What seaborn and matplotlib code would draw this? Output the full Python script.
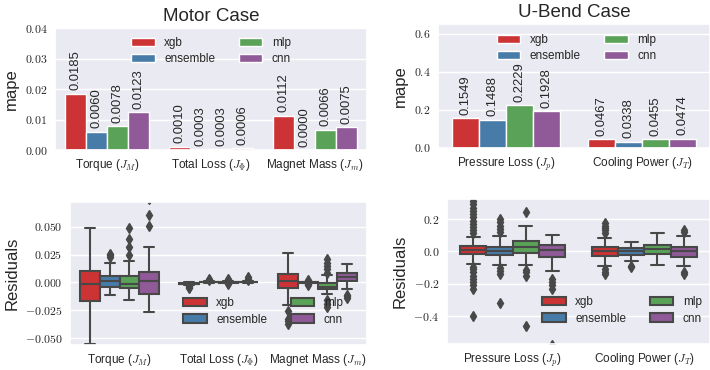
import matplotlib
matplotlib.use("Agg")
import matplotlib.pyplot as plt
import seaborn as sns
import pandas as pd
from matplotlib.ticker import FuncFormatter

# ---------------- data ----------------
models = ["xgb", "ensemble", "mlp", "cnn"]
motor_targets = ["Torque ($J_M$)", "Total Loss ($J_\\Phi$)", "Magnet Mass ($J_m$)"]
ubend_targets = ["Pressure Loss ($J_p$)", "Cooling Power ($J_T$)"]

motor_mape_xgb = [0.0185, 0.0010, 0.0112]
motor_mape_ensemble = [0.0060, 0.0003, 0.0000]
motor_mape_mlp = [0.0078, 0.0003, 0.0066]
motor_mape_cnn = [0.0123, 0.0006, 0.0075]

ubend_mape_xgb = [0.1549, 0.0467]
ubend_mape_ensemble = [0.1488, 0.0338]
ubend_mape_mlp = [0.2229, 0.0455]
ubend_mape_cnn = [0.1928, 0.0474]

# residual samples
res_torque = {
    "xgb": [-0.0553, -0.030, -0.0168, -0.010, -0.0018, 0.004, 0.0101, 0.030, 0.0493],
    "ensemble": [-0.0114, -0.009, -0.007, -0.005, -0.0039, -0.002, -0.001, 0.0, 0.001,
                 0.002, 0.003, 0.004, 0.0054, 0.0176, 0.023, 0.0245, 0.026],
    "mlp": [-0.0162, -0.013, -0.010, -0.008, -0.0065, -0.0054, -0.0045, -0.0035, -0.0025,
            -0.002, -0.0015, 0.0, 0.0015, 0.003, 0.0045, 0.0059, 0.0194, 0.0245, 0.032,
            0.039, 0.0495],
    "cnn": [-0.0269, -0.020, -0.015, -0.012, -0.0102, -0.007, -0.004, -0.001, 0.0012,
            0.003, 0.005, 0.007, 0.0095, 0.0317, 0.051, 0.061, 0.075],
}
res_loss = {
    "xgb": [-0.005, -0.0045, -0.0035, -0.0025, -0.0015, -0.0013, -0.0012, -0.0011, -0.001,
            -0.0009, -0.0008, -0.0006, -0.0005, -0.0002, 0.0, 0.0003, 0.0005],
    "ensemble": [-0.0004, -0.0002, -0.0001, 0.0, 0.0001, 0.0002, 0.0003, 0.0004, 0.0005,
                 0.0006, 0.001, 0.0018, 0.0027],
    "mlp": [-0.0018, -0.0008, -0.0005, -0.0003, -0.0002, -0.0001, 0.0, 0.0001, 0.0002,
            0.0003, 0.0009, 0.0018, 0.0028],
    "cnn": [-0.0006, -0.0004, -0.0002, -0.0001, 0.0, 0.0001, 0.0002, 0.0003, 0.0004,
            0.0005, 0.0006, 0.0007, 0.0008, 0.0015, 0.0025, 0.0035, 0.0045],
}
res_mass = {
    "xgb": [-0.037, -0.035, -0.033, -0.026, -0.020, -0.005, -0.003, -0.001, 0.0, 0.001,
            0.0015, 0.003, 0.005, 0.006, 0.007, 0.008, 0.012, 0.016, 0.020, 0.024, 0.0265],
    "ensemble": [-0.0022, -0.0015, -0.0008, -0.0003, -0.0002, -0.0001, 0.0, 0.0001, 0.0002,
                 0.0003, 0.0008, 0.0015, 0.0025],
    "mlp": [-0.022, -0.019, -0.016, -0.0102, -0.008, -0.007, -0.006, -0.0055, -0.005,
            -0.0048, -0.0045, -0.0042, -0.004, -0.0035, -0.003, -0.002, -0.0015, -0.001,
            -0.0004, 0.0065, 0.009, 0.012, 0.015, 0.018, 0.021],
    "cnn": [-0.014, -0.0125, -0.011, -0.006, 0.0012, 0.002, 0.003, 0.004, 0.005, 0.006,
            0.007, 0.008, 0.009, 0.011, 0.013, 0.015, 0.0165],
}
res_pressure = {
    "xgb": [-0.40, -0.23, -0.21, -0.19, -0.17, -0.15, -0.13, -0.11, -0.095, -0.077, -0.06,
            -0.04, -0.025, -0.016, -0.014, -0.012, -0.01, -0.008, -0.006, -0.004, -0.002,
            0.0, 0.002, 0.004, 0.006, 0.008, 0.01, 0.012, 0.014, 0.016, 0.018, 0.02, 0.022,
            0.024, 0.026, 0.028, 0.03, 0.032, 0.034, 0.035, 0.087, 0.115, 0.13, 0.15, 0.17,
            0.19, 0.21, 0.23, 0.25, 0.27, 0.29, 0.31, 0.335],
    "ensemble": [-0.32, -0.14, -0.12, -0.10, -0.085, -0.05, -0.021, -0.015, -0.01, -0.005,
                 0.0, 0.002, 0.004, 0.008, 0.012, 0.017, 0.021, 0.025, 0.027, 0.097, 0.12,
                 0.14, 0.16, 0.18, 0.20],
    "mlp": [-0.46, -0.15, -0.13, -0.118, -0.085, -0.008, 0.0, 0.01, 0.018, 0.025, 0.03,
            0.038, 0.045, 0.052, 0.058, 0.062, 0.08, 0.10, 0.13, 0.156, 0.245],
    "cnn": [-0.58, -0.23, -0.21, -0.19, -0.17, -0.12, -0.035, -0.028, -0.02, -0.012, -0.005,
            0.0, 0.006, 0.012, 0.018, 0.025, 0.031, 0.037, 0.042, 0.05, 0.06, 0.07, 0.08,
            0.09, 0.104],
}
res_cooling = {
    "xgb": [-0.14, -0.125, -0.112, -0.088, -0.06, -0.04, -0.027, -0.02, -0.015, -0.01,
            -0.006, -0.003, 0.0, 0.004, 0.008, 0.012, 0.018, 0.022, 0.027, 0.085, 0.115,
            0.13, 0.145, 0.16, 0.175],
    "ensemble": [-0.095, -0.088, -0.06, -0.021, -0.012, -0.005, 0.0, 0.006, 0.014, 0.021,
                 0.035, 0.05, 0.06],
    "mlp": [-0.083, -0.04, -0.016, 0.0, 0.015, 0.03, 0.042, 0.08, 0.115],
    "cnn": [-0.14, -0.13, -0.09, -0.06, -0.035, -0.02, -0.01, -0.005, 0.0, 0.008, 0.015,
            0.02, 0.025, 0.06, 0.095, 0.12, 0.13],
}

# ---------------- tables ----------------
def mape_table(targets, per_model):
    rows = []
    for m, vals in zip(models, per_model):
        for t, v in zip(targets, vals):
            rows.append({"target": t, "model": m, "mape": v})
    return pd.DataFrame(rows)


def res_table(targets, per_target):
    rows = []
    for t, d in zip(targets, per_target):
        for m in models:
            for v in d[m]:
                rows.append({"target": t, "model": m, "res": v})
    return pd.DataFrame(rows)


motor_bar = mape_table(motor_targets, [motor_mape_xgb, motor_mape_ensemble,
                                       motor_mape_mlp, motor_mape_cnn])
ubend_bar = mape_table(ubend_targets, [ubend_mape_xgb, ubend_mape_ensemble,
                                       ubend_mape_mlp, ubend_mape_cnn])
motor_box = res_table(motor_targets, [res_torque, res_loss, res_mass])
ubend_box = res_table(ubend_targets, [res_pressure, res_cooling])

# ---------------- style ----------------
sns.set_theme(style="darkgrid")
plt.rcParams["font.family"] = ["Liberation Sans", "DejaVu Sans"]
plt.rcParams["mathtext.fontset"] = "cm"


def fmt(decimals):
    def f(v, pos):
        v = round(v, 6) + 0.0
        return f"${v:.{decimals}f}$"
    return FuncFormatter(f)


fig = plt.figure(figsize=(7.1, 3.7), dpi=100)
W, H = 710.0, 370.0


def add_ax(l, t, r, b):
    return fig.add_axes([l / W, 1 - b / H, (r - l) / W, (b - t) / H])


ax_tl = add_ax(55, 28, 367, 150)
ax_tr = add_ax(438, 24, 710, 148)
ax_bl = add_ax(70, 202, 367, 345)
ax_br = add_ax(447, 199, 710, 344)

palette = "Set1"
TICK_FS = 8.5
LEG_FS = 8.5
LAB_FS = 12
ANN_FS = 9.4


def relegend(ax, cx, cy):
    leg = ax.get_legend()
    if leg is not None:
        handles = leg.legend_handles
        labels = [t.get_text() for t in leg.get_texts()]
        leg.remove()
    else:
        handles, labels = ax.get_legend_handles_labels()
    ax.legend(handles, labels, ncol=2, frameon=False, loc="center",
              bbox_to_anchor=(cx, cy), fontsize=LEG_FS, columnspacing=2.0,
              labelspacing=0.35, borderaxespad=0)


def style_ticks(ax):
    ax.tick_params(axis="x", labelsize=TICK_FS, length=0, pad=5)
    ax.tick_params(axis="y", labelsize=TICK_FS, length=0, pad=5.5)


# --- bar plots ---
for ax, df, title, ylim, ticks, dec, lpos in [
    (ax_tl, motor_bar, "Motor Case", (0, 0.04), [0, 0.01, 0.02, 0.03, 0.04], 2, (0.5, 0.81)),
    (ax_tr, ubend_bar, "U-Bend Case", (0, 0.65), [0, 0.2, 0.4, 0.6], 1, (0.51, 0.806)),
]:
    sns.barplot(data=df, x="target", y="mape", hue="model", palette=palette,
                errorbar=None, ax=ax)
    for cont in ax.containers:
        ax.bar_label(cont, fmt="%.4f", rotation=90, padding=2.5, fontsize=ANN_FS)
    ax.set_ylim(*ylim)
    ax.set_yticks(ticks)
    ax.yaxis.set_major_formatter(fmt(dec))
    ax.set_xlabel("")
    ax.set_ylabel("mape", fontsize=LAB_FS)
    ax.set_title(title, fontsize=13.5, pad=5)
    style_ticks(ax)
    relegend(ax, *lpos)

# --- box plots ---
for ax, df, ylim, ticks, dec, lpos in [
    (ax_bl, motor_box, (-0.0563, 0.0725), [-0.05, -0.025, 0, 0.025, 0.05], 3, (0.65, 0.234)),
    (ax_br, ubend_box, (-0.573, 0.324), [-0.4, -0.2, 0, 0.2], 1, (0.665, 0.231)),
]:
    sns.boxplot(data=df, x="target", y="res", hue="model", palette=palette,
                linewidth=1.5, fliersize=5,
                flierprops=dict(marker="d"), ax=ax)
    for ln in ax.lines:
        if ln.get_marker() == "d":
            ln.set_markerfacecolor(ln.get_markeredgecolor())
    ax.set_ylim(*ylim)
    ax.set_yticks(ticks)
    ax.yaxis.set_major_formatter(fmt(dec))
    ax.set_xlabel("")
    ax.set_ylabel("Residuals", fontsize=LAB_FS)
    style_ticks(ax)
    relegend(ax, *lpos)

fig.savefig("out.png", dpi=100)
